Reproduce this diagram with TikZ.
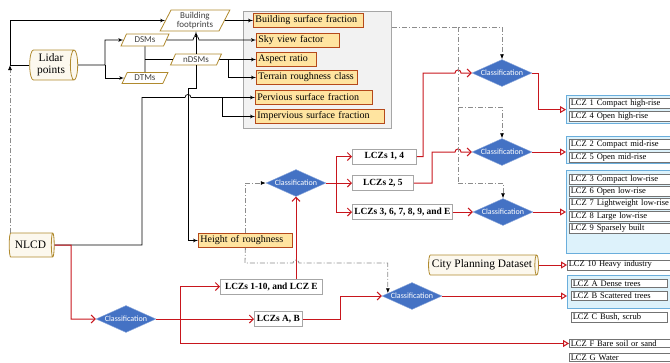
\documentclass[tikz,border=0pt]{standalone}
\usepackage{fontspec}
\setmainfont{Liberation Serif}
\newfontfamily\calib{Carlito}
\usetikzlibrary{shapes,arrows,arrows.meta,positioning,calc}

\definecolor{goldline}{HTML}{B08A2E}
\definecolor{creamfill}{HTML}{FCF8EE}
\definecolor{featline}{HTML}{B5491B}
\definecolor{featfill}{HTML}{FFE4A0}
\definecolor{boxgray}{HTML}{A6A6A6}
\definecolor{panelfill}{HTML}{F2F2F2}
\definecolor{clsblue}{HTML}{4472C4}
\definecolor{redline}{HTML}{C8161D}
\definecolor{grpline}{HTML}{6AAEDC}
\definecolor{grpfill}{HTML}{DDF2FB}
\definecolor{dashgray}{HTML}{8C8C8C}

\tikzstyle{store} = [cylinder, draw=goldline, fill=creamfill, line width=0.8pt,
  shape aspect=0.3, align=center, inner sep=1pt, font=\fontsize{11.4}{12}\selectfont]
\tikzstyle{data} = [trapezium, trapezium left angle=65, trapezium right angle=115,
  trapezium stretches=true, draw=goldline, fill=white, line width=0.8pt, align=center,
  inner sep=0.5pt, font=\calib\fontsize{9}{9.5}\selectfont, text=black!75]
\tikzstyle{feat} = [rectangle, draw=featline, fill=featfill, line width=0.8pt,
  align=left, inner sep=2pt, minimum height=14pt, anchor=west, font=\fontsize{10}{11}\selectfont]
\tikzstyle{panel} = [rectangle, draw=boxgray, fill=panelfill, line width=0.8pt, anchor=north west]
\tikzstyle{cls} = [diamond, draw=clsblue!60, fill=clsblue, aspect=2.1, inner sep=0pt,
  minimum width=60pt, minimum height=27pt, text=white, font=\calib\fontsize{8}{8}\selectfont]
\tikzstyle{lcz} = [rectangle, draw=boxgray, fill=white, line width=0.8pt, anchor=west,
  minimum height=15pt, inner sep=2pt, font=\bfseries\fontsize{9.4}{10}\selectfont]
\tikzstyle{grp} = [rectangle, draw=grpline, fill=grpfill, line width=1.2pt, anchor=north west]
\tikzstyle{item} = [rectangle, draw=black!55, fill=white, line width=0.6pt, text width=100pt,
  inner xsep=1.5pt, inner ysep=1.2pt, anchor=north west, font=\fontsize{8.5}{9}\selectfont]
\tikzstyle{line} = [draw, -latex', line width=0.7pt]
\tikzstyle{plain} = [draw, line width=0.7pt]
\tikzstyle{rline} = [draw=redline, line width=1pt, -{Straight Barb[length=4pt,width=8pt]}]
\tikzstyle{rtri} = [draw=redline, line width=1pt, -{Triangle[open,length=6pt,width=7pt]}]
\tikzstyle{dplain} = [draw=dashgray, line width=0.8pt, dash pattern=on 5pt off 2pt on 1pt off 2pt]
\tikzstyle{dline} = [dplain, -{Latex[black,length=5pt,width=4pt]}]

\begin{document}
\begin{tikzpicture}[x=1pt, y=-1pt]
\useasboundingbox (0,0) rectangle (670,362);

% ==========================================
% BACKGROUND PANELS
% ==========================================
\node[panel, minimum width=148pt, minimum height=117pt] (panel) at (243,11) {};
\node[grp, minimum width=115pt, minimum height=28pt] (g1) at (566,95) {};
\node[grp, minimum width=115pt, minimum height=27pt] (g2) at (566,136) {};
\node[grp, minimum width=115pt, minimum height=83pt] (g3) at (566,170) {};
\node[grp, minimum width=115pt, minimum height=33pt] (gab) at (567,275) {};

% ==========================================
% SOURCES (left column)
% ==========================================
\node[store, minimum height=48pt, minimum width=30pt] (lidar) at (51,65) {Lidar\\points};
\node[store, minimum height=45pt, minimum width=24pt] (nlcd) at (30.5,245) {NLCD};
\node[store, minimum height=110pt, minimum width=20pt] (cpd) at (482,265) {City Planning Dataset};

\node[data, minimum width=70pt, minimum height=21pt] (bfp) at (195,20.5) {Building\\footprints};
\node[data, minimum width=48pt, minimum height=12pt] (dsm) at (145,40) {DSMs};
\node[data, minimum width=46pt, minimum height=11pt] (dtm) at (145,78) {DTMs};
\node[data, minimum width=51pt, minimum height=11pt] (ndsm) at (196,59.5) {nDSMs};

% ==========================================
% MORPHOLOGY FEATURES
% ==========================================
\node[feat, text width=106pt] (bsf) at (253,20.5) {Building surface fraction};
\node[feat, text width=79pt] (svf) at (256,40) {Sky view factor};
\node[feat, text width=56pt] (ar) at (256,59.5) {Aspect ratio};
\node[feat, text width=97pt] (trc) at (256,77.5) {Terrain roughness class};
\node[feat, text width=113pt] (psf) at (255,97.5) {Pervious surface fraction};
\node[feat, text width=125pt] (isf) at (255,116.5) {Impervious surface fraction};
\node[feat, text width=90pt] (hor) at (198,240.5) {Height of roughness};

% ==========================================
% CLASSIFICATION STEPS
% ==========================================
\node[cls] (c1) at (126,319) {Classification};
\node[cls] (c2) at (296,183) {Classification};
\node[cls] (c3) at (502,73) {Classification};
\node[cls] (c4) at (502,152) {Classification};
\node[cls] (c5) at (503,212) {Classification};
\node[cls] (c6) at (412,296) {Classification};

\node[lcz, minimum width=64pt] (l14) at (352,156.5) {LCZs 1, 4};
\node[lcz, minimum width=61pt] (l25) at (352,183) {LCZs 2, 5};
\node[lcz, minimum width=100pt] (l3e) at (352,212) {LCZs 3, 6, 7, 8, 9, and E};
\node[lcz, minimum width=102pt] (l110) at (220,286.5) {LCZs 1-10, and LCZ E};
\node[lcz, minimum width=48pt] (lab) at (254,319) {LCZs A, B};

% ==========================================
% LCZ CLASSES (right column)
% ==========================================
\node[item] (l1) at (569,98) {LCZ 1 Compact high-rise};
\node[item, below=2pt of l1] (l4) {LCZ 4 Open high-rise};
\node[item] (l2) at (569,139) {LCZ 2 Compact mid-rise};
\node[item, below=2pt of l2] (l5) {LCZ 5 Open mid-rise};
\node[item] (l3) at (569,174) {LCZ 3 Compact low-rise};
\node[item, below=1.5pt of l3] (l6) {LCZ 6 Open low-rise};
\node[item, below=1.5pt of l6] (l7) {LCZ 7 Lightweight low-rise};
\node[item, below=1.5pt of l7] (l8) {LCZ 8 Large low-rise};
\node[item, below=1.5pt of l8] (l9) {LCZ 9 Sparsely built};
\node[item] (l10) at (567,259.5) {LCZ 10 Heavy industry};
\node[item, text width=93pt] (la) at (571,279) {LCZ A Dense trees};
\node[item, text width=93pt, below=3.5pt of la] (lb) {LCZ B Scattered trees};
\node[item, text width=93pt] (lc) at (571,312) {LCZ C Bush, scrub};
\node[item] (lf) at (569,339) {LCZ F Bare soil or sand};
\node[item] (lg) at (569,353) {LCZ G Water};

% ==========================================
% BLACK CONNECTORS
% ==========================================
\coordinate (lj) at (10,65);
\coordinate (ls) at (105,65);
\coordinate (nj) at (228,59.5);
\coordinate (hj) at (188,88);
\coordinate (pj) at (142,97.5);
\coordinate (ij) at (222,97.5);
\draw[line] (lidar.west) -- (lj) |- (bfp.west);
\draw[line] (lidar.east) -- (ls) |- (dsm.west);
\draw[line] (ls) |- (dtm.west);
\draw[plain] (dsm.south) -- (dtm.north);
\draw[plain] (dsm.south |- ndsm.west) -- (ndsm.west);
\draw[line] (dsm.east) -- (193,40) .. controls (193,35) and (199,35) .. (199,40) -- (svf.west);
\draw[line] (bfp.east) -- (bsf.west);
\draw[line] (ndsm.north) -- (ndsm.north |- bfp.south);
\draw[line] (ndsm.east) -- (ar.west);
\draw[line] (nj) |- (trc.west);
\draw[line] (ndsm.south) |- (hj) |- (hor.west);
\draw[line] (nlcd.east) -| (pj) -- (185,97.5) .. controls (185,93.5) and (191,93.5) .. (191,97.5) -- (psf.west);
\draw[line] (ij) |- (isf.west);

% ==========================================
% RED CONNECTORS
% ==========================================
\coordinate (nr) at (71,245);
\coordinate (c1j) at (180,319);
\coordinate (c2j) at (336,183);
\coordinate (abj) at (340,319);
\coordinate (c3j) at (538,73);
\draw[rline] (nlcd.east) -- (nr) |- (c1.west);
\draw[rline] (c1.east) -- (c1j) |- (l110.west);
\draw[rline] (c1j) -- (lab.west);
\draw[rtri] (c1j) |- (lf.west);
\draw[rline] (c2.south |- l110.north) -- (c2.south);
\draw[rline] (lab.east) -- (abj) |- (c6.west);
\draw[rline] (c2.east) -- (c2j) |- (l14.west);
\draw[rline] (c2j) -- (l25.west);
\draw[rline] (c2j) |- (l3e.west);
\draw[rline] (l14.east) -| (423,73) -- (455,73) .. controls (455,69) and (461,69) .. (461,73) -- (c3.west);
\draw[rline] (l25.east) -| (432,152) -- (455,152) .. controls (455,148) and (461,148) .. (461,152) -- (c4.west);
\draw[rline] (l3e.east) -- (c5.west);
\draw[rtri] (c3.east) -- (c3j) |- (g1.west);
\draw[rtri] (c4.east) -- (c4.east -| g2.west);
\draw[rtri] (c5.east) -- (c5.east -| g3.west);
\draw[rtri] (cpd.east) -- (cpd.east -| l10.west);
\draw[rtri] (c6.east) -- (c6.east -| gab.west);

% ==========================================
% DASHED CONNECTORS
% ==========================================
\coordinate (pout) at ([yshift=-16pt]panel.north east);
\coordinate (dj) at (458,27);
\coordinate (dh) at (245,263);
\coordinate (c6in) at ($(c6.west)!0.2!(c6.north)$);
\draw[dline] (lj |- nlcd.north) -- (lj);
\draw[dline] (pout) -| (c3.north);
\draw[dplain] (dj) -- (458,183);
\draw[dline] (458,107) -| (c4.north);
\draw[dline] (458,183) -| (c5.north);
\draw[dline] (hor.north) |- (c2.west);
\draw[dline] (hor.south) -- (dh) -- (293,263) .. controls (293,259) and (299,259) .. (299,263) -| (c6in);

\end{tikzpicture}
\end{document}
